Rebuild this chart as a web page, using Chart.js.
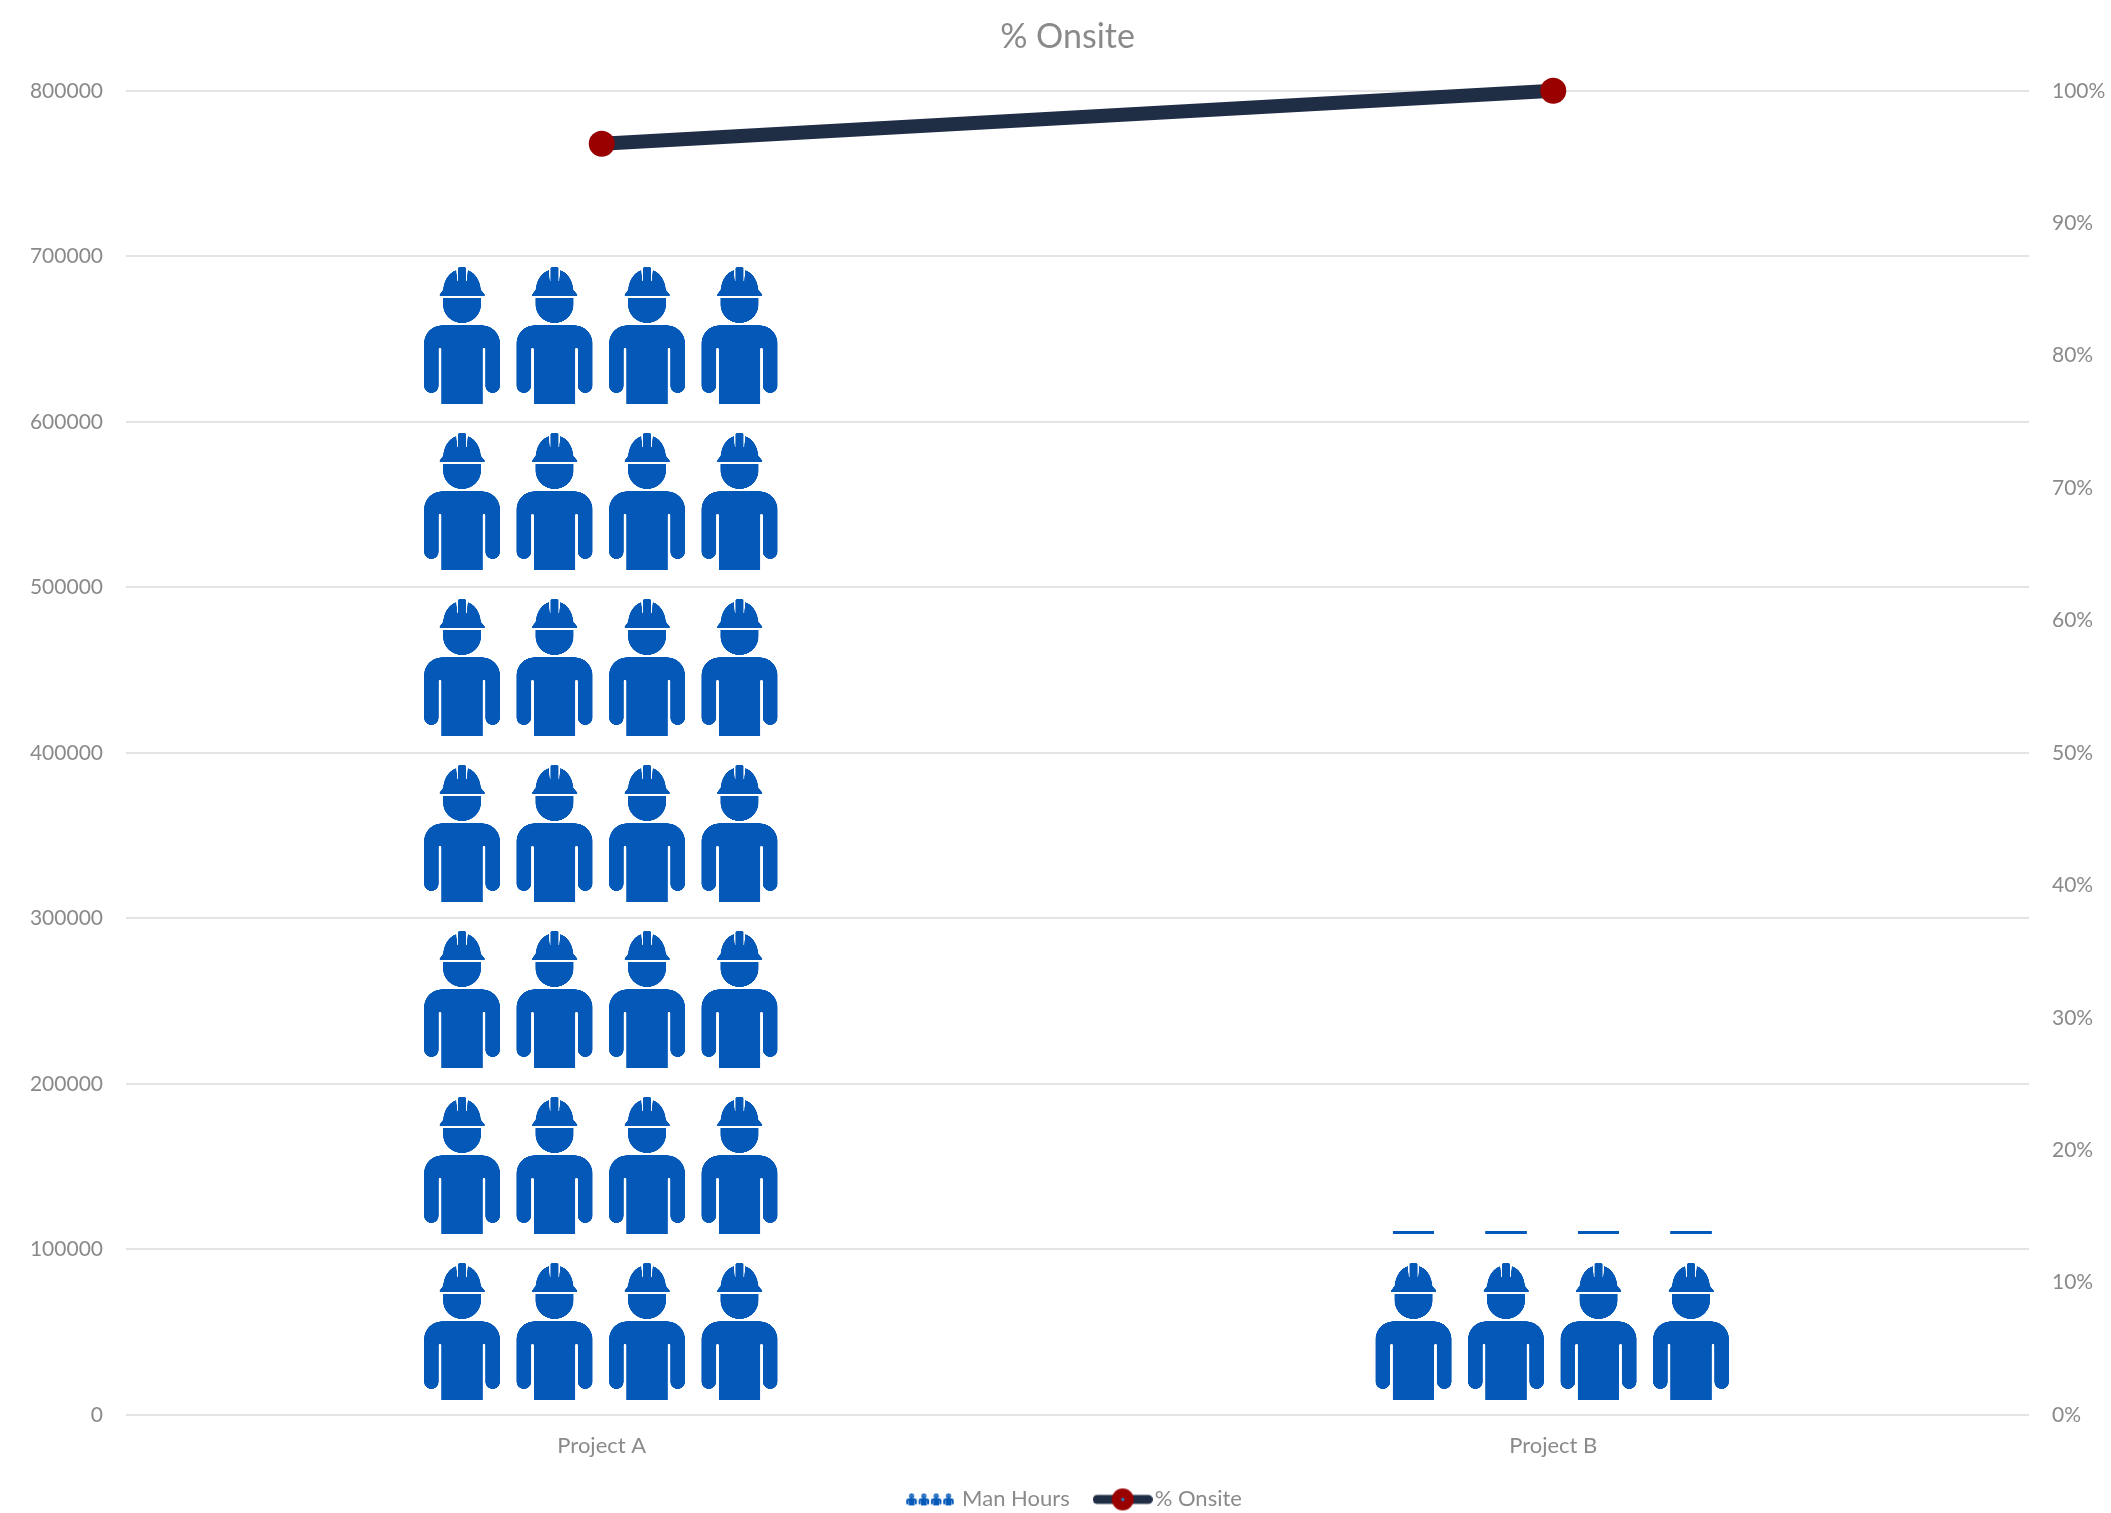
<!DOCTYPE html>
<html>
<head>
<meta charset="utf-8">
<title>% Onsite</title>
<script src="https://cdn.jsdelivr.net/npm/chart.js@4"></script>
<style>
    html, body { margin: 0; padding: 0; background: #fff; overflow: hidden; }
    canvas { display: block; }
</style>
</head>
<body>
<canvas id="chart" width="2111" height="1513"></canvas>
<script>
// Chart data
const categories = ['Project A', 'Project B'];
const manHours = [700000, 111000];
const percentOnsite = [0.96, 1];

const BLUE = '#0358b8';
const NAVY = '#1f2d45';
const RED = '#990000';
const TEXT = '#8a8a8a';
const GRID = '#e4e4e4';
const FONT = 'Lato, Carlito, sans-serif';

// One picture tile holds four workers and repeats up the bar
const TILE_W = 370;
const TILE_H = 166;

// Worker glyph, x centred on 0, y from the top of the hat (3x zoom units)
const dome = new Path2D('M-57,72 C-55,38 -38,16 -16,9 L-12,2 Q0,-3 12,2 L16,9 C38,16 55,38 57,72 Z');
const slits = new Path2D('M-18,4 L-12,4 L-12,42 L-14,42 Z M18,4 L12,4 L12,42 L14,42 Z');
const brim = new Path2D('M-58,70 H58 L68,82 V88 H-67 V82 Z');
const head = new Path2D('M-57,93 H57 V112 C57,145 30,168 0,168 C-30,168 -57,145 -57,112 Z');
const body = new Path2D('M-60,175 H60 A54,54 0 0 1 114,229 V356 A22,22 0 0 1 70,356 V246 Q66,238 62,246 V412 H-62 V246 Q-66,238 -70,246 V356 A22,22 0 0 1 -114,356 V229 A54,54 0 0 1 -60,175 Z');

function drawWorker(g) {
    g.fillStyle = BLUE;
    g.fill(dome);
    g.globalCompositeOperation = 'destination-out';
    g.fill(slits);
    g.globalCompositeOperation = 'source-over';
    g.fill(brim);
    g.fill(head);
    g.fill(body);
}

function createTile() {
    const res = 3;
    const c = document.createElement('canvas');
    c.width = TILE_W * res;
    c.height = TILE_H * res;
    const g = c.getContext('2d');
    for (let i = 0; i < 4; i++) {
        g.save();
        g.translate((i + 0.5) * TILE_W / 4 * res - res, 14 * res);
        g.scale(res / 3, res / 3);
        drawWorker(g);
        g.restore();
    }
    return c;
}

const tile = createTile();

// Anchor the pattern on the bar so the tiles stack up from the zero line
function barPattern(ctx) {
    if (ctx.dataIndex === undefined || !ctx.chart.scales.x) return BLUE;
    const pattern = ctx.chart.ctx.createPattern(tile, 'repeat');
    const left = ctx.chart.scales.x.getPixelForValue(ctx.dataIndex) - TILE_W / 2;
    const top = ctx.chart.scales.y.getPixelForValue(0) - TILE_H;
    pattern.setTransform(new DOMMatrix().translate(left, top).scale(TILE_W / tile.width, TILE_H / tile.height));
    return pattern;
}

// Legend swatches
function workersSwatch() {
    const c = document.createElement('canvas');
    c.width = 48;
    c.height = 14;
    const g = c.getContext('2d');
    for (let i = 0; i < 4; i++) {
        g.save();
        g.translate(5.5 + i * 12.3, 1);
        g.scale(10.5 / 228, 12 / 412);
        drawWorker(g);
        g.restore();
    }
    return c;
}

function lineSwatch() {
    const c = document.createElement('canvas');
    c.width = 60;
    c.height = 24;
    const g = c.getContext('2d');
    g.strokeStyle = NAVY;
    g.lineWidth = 9;
    g.lineCap = 'round';
    g.beginPath();
    g.moveTo(4.5, 12);
    g.lineTo(55.5, 12);
    g.stroke();
    g.fillStyle = RED;
    g.beginPath();
    g.arc(30, 12, 11, 0, Math.PI * 2);
    g.fill();
    g.fillStyle = '#0a9bf0';
    g.beginPath();
    g.arc(30, 12, 1.5, 0, Math.PI * 2);
    g.fill();
    return c;
}

const swatches = [workersSwatch(), lineSwatch()];

// The legend in the picture sits a little right of the chart centre
const legendNudge = {
    id: 'legendNudge',
    afterLayout(chart) {
        chart.legend.left += 16;
        chart.legend.top -= 21;
        chart.legend.bottom -= 21;
    }
};

new Chart(document.getElementById('chart'), {
    type: 'bar',
    plugins: [legendNudge],
    data: {
        labels: categories,
        datasets: [
            {
                type: 'line',
                label: '% Onsite',
                data: percentOnsite,
                yAxisID: 'y1',
                order: 0,
                clip: false,
                borderColor: NAVY,
                borderWidth: 14,
                borderCapStyle: 'round',
                tension: 0,
                pointRadius: 13,
                pointHoverRadius: 13,
                pointBorderWidth: 0,
                pointBackgroundColor: RED
            },
            {
                label: 'Man Hours',
                data: manHours,
                yAxisID: 'y',
                order: 1,
                backgroundColor: barPattern,
                borderWidth: 0,
                barThickness: TILE_W
            }
        ]
    },
    options: {
        responsive: false,
        animation: false,
        layout: { padding: { left: 24, right: 0, top: 0, bottom: -28.4 } },
        plugins: {
            title: {
                display: true,
                text: '% Onsite',
                color: TEXT,
                font: { family: FONT, size: 34, weight: 'normal' },
                padding: { top: 17, bottom: 33 }
            },
            legend: {
                display: true,
                position: 'bottom',
                labels: {
                    color: TEXT,
                    font: { family: FONT, size: 22 },
                    usePointStyle: true,
                    pointStyleWidth: 42,
                    padding: 32,
                    generateLabels: () => ['Man Hours', '% Onsite'].map((text, i) => ({
                        text,
                        fontColor: TEXT,
                        pointStyle: swatches[i],
                        datasetIndex: i === 0 ? 1 : 0,
                        hidden: false
                    }))
                }
            },
            tooltip: { enabled: false }
        },
        scales: {
            x: {
                grid: { display: false, drawTicks: false },
                border: { display: false },
                ticks: { color: TEXT, font: { family: FONT, size: 22 }, padding: 18 }
            },
            y: {
                position: 'left',
                min: 0,
                max: 800000,
                afterFit: scale => { scale.width = 102; },
                grid: { color: GRID, lineWidth: 2, drawTicks: false },
                border: { display: false },
                ticks: {
                    stepSize: 100000,
                    color: TEXT,
                    font: { family: FONT, size: 21 },
                    padding: 23,
                    callback: value => String(value)
                }
            },
            y1: {
                position: 'right',
                min: 0,
                max: 1,
                afterFit: scale => { scale.width = 82; },
                grid: { display: false, drawTicks: false },
                border: { display: false },
                ticks: {
                    stepSize: 0.1,
                    color: TEXT,
                    font: { family: FONT, size: 21 },
                    padding: 23,
                    callback: value => Math.round(value * 100) + '%'
                }
            }
        }
    }
});
</script>
</body>
</html>
